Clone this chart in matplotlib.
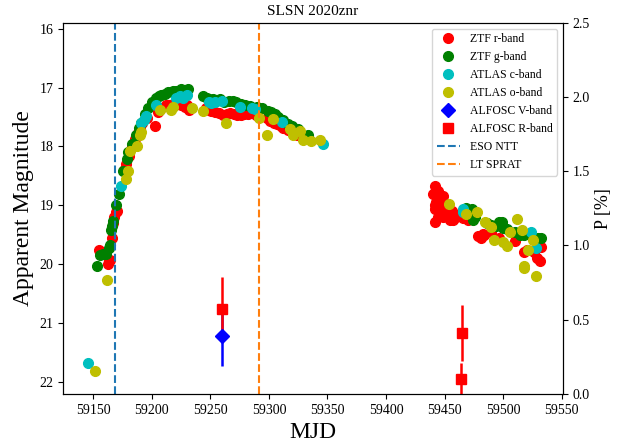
import matplotlib
matplotlib.use("Agg")
import matplotlib.pyplot as plt
from matplotlib.lines import Line2D

plt.rcParams['font.family'] = ['Liberation Serif', 'DejaVu Serif']
plt.rcParams['mathtext.fontset'] = 'stix'

# ZTF r-band
r_mjd = [59155, 59157, 59162.7, 59163.5, 59164, 59166.5, 59167, 59168, 59169.3, 59170,
         59176, 59178, 59181, 59183, 59186, 59188, 59190, 59192, 59196, 59202.6,
         59205, 59208, 59212.6, 59215, 59218, 59222, 59225, 59228.2, 59230, 59232,
         59246, 59249, 59251, 59254, 59257, 59261, 59264, 59267, 59270, 59273,
         59276.6, 59279, 59282, 59286, 59289.4, 59298, 59300.8, 59304, 59307, 59310,
         59312.2, 59316, 59320, 59324, 59328,
         59440.3, 59441.7, 59441.7, 59441.7, 59443, 59445, 59446, 59448.8, 59450, 59451.7,
         59453, 59454.5, 59456, 59458, 59460, 59463, 59466, 59470, 59478.7, 59481,
         59484, 59490, 59496, 59510, 59517.7, 59520, 59526, 59529, 59531, 59532,
         59442, 59444, 59447, 59449, 59452, 59455, 59457, 59444, 59447, 59480, 59483]
r_mag = [19.75, 19.80, 20.00, 19.95, 19.92, 19.55, 19.30, 19.20, 19.12, 19.10,
         18.40, 18.30, 18.16, 18.00, 17.88, 17.77, 17.70, 17.60, 17.52, 17.66,
         17.42, 17.35, 17.29, 17.30, 17.27, 17.28, 17.30, 17.33, 17.30, 17.38,
         17.35, 17.38, 17.40, 17.42, 17.43, 17.46, 17.44, 17.43, 17.45, 17.46,
         17.46, 17.45, 17.44, 17.42, 17.46, 17.52, 17.57, 17.60, 17.62, 17.65,
         17.68, 17.72, 17.76, 17.80, 17.84,
         18.81, 18.67, 19.07, 19.29, 18.95, 19.10, 18.90, 18.84, 19.15, 19.01,
         19.20, 19.24, 19.10, 19.15, 19.20, 19.18, 19.22, 19.25, 19.52, 19.55,
         19.50, 19.45, 19.55, 19.60, 19.80, 19.75, 19.80, 19.89, 19.95, 19.70,
         19.00, 19.20, 19.05, 19.20, 19.15, 19.20, 19.25, 18.75, 18.85, 19.52, 19.48]

# ZTF g-band
g_mjd = [59153.7, 59155.6, 59158, 59161.3, 59163.3, 59164, 59165.6, 59166.5, 59167, 59169.9,
         59171.9, 59175.5, 59179.3, 59180, 59183, 59186.4, 59189, 59191, 59194, 59197,
         59200, 59204, 59206, 59208.3, 59211, 59214, 59218.2, 59221, 59225.4, 59228, 59231,
         59244, 59246.8, 59249, 59252, 59255, 59258, 59262, 59266, 59269.5, 59272,
         59276, 59280, 59284, 59290, 59294, 59299.4, 59302, 59305, 59308, 59312,
         59316, 59320, 59325, 59333.5,
         59468, 59470, 59473, 59474.4, 59476, 59486, 59490, 59494, 59496, 59498.7,
         59500, 59503, 59510, 59514, 59518, 59524, 59530, 59532]
g_mag = [20.03, 19.85, 19.82, 19.83, 19.72, 19.68, 19.42, 19.35, 19.27, 19.00,
         18.81, 18.42, 18.21, 18.10, 17.95, 17.81, 17.68, 17.60, 17.45, 17.34,
         17.25, 17.17, 17.15, 17.12, 17.10, 17.08, 17.06, 17.05, 17.03, 17.04, 17.03,
         17.15, 17.17, 17.20, 17.20, 17.22, 17.20, 17.24, 17.22, 17.23, 17.25,
         17.28, 17.30, 17.32, 17.33, 17.35, 17.40, 17.42, 17.45, 17.50, 17.55,
         17.62, 17.66, 17.70, 17.80,
         19.05, 19.10, 19.07, 19.24, 19.20, 19.30, 19.33, 19.35, 19.28, 19.29,
         19.38, 19.40, 19.45, 19.50, 19.50, 19.50, 19.55, 19.55]

# ATLAS c-band
c_mjd = [59145.6, 59174.2, 59191.2, 59193, 59195, 59204, 59220.5, 59224, 59229.7, 59227,
         59249, 59251, 59254, 59259.6, 59275.2, 59286, 59288, 59311.6, 59345.8,
         59465.9, 59466, 59523.4, 59527.6]
c_mag = [21.67, 18.67, 17.60, 17.55, 17.49, 17.29, 17.17, 17.15, 17.12, 17.18,
         17.25, 17.26, 17.25, 17.23, 17.33, 17.34, 17.36, 17.59, 17.95,
         19.07, 19.12, 19.46, 19.72]

# ATLAS o-band
o_mjd = [59152, 59161.9, 59177.8, 59179.8, 59181.8, 59187.8, 59189.8, 59191, 59206.9, 59216.3,
         59218, 59234, 59243.9, 59263.8, 59291.7, 59298, 59303.6, 59317.9, 59320.7, 59326.4,
         59329.3, 59335.6, 59343.5,
         59454, 59468.2, 59477.9, 59484.4, 59490, 59492.1, 59499.5, 59503.5, 59505.8, 59512.1,
         59515.7, 59521.4, 59525.7, 59518.1, 59517.7, 59528]
o_mag = [21.82, 20.27, 18.56, 18.42, 18.08, 17.99, 17.80, 17.75, 17.38, 17.38,
         17.33, 17.34, 17.40, 17.60, 17.51, 17.80, 17.54, 17.71, 17.80, 17.74,
         17.89, 17.91, 17.89,
         18.98, 19.15, 19.11, 19.28, 19.36, 19.59, 19.63, 19.69, 19.46, 19.23,
         19.41, 19.76, 19.58, 20.03, 20.07, 20.20]

# Polarimetry (P [%])
V_mjd = [59259.6]
V_pol = [0.39]
V_err = [0.20]
R_mjd = [59259.8, 59464.6, 59463.8]
R_pol = [0.57, 0.41, 0.10]
R_err = [0.22, 0.19, 0.11]

# Spectra epochs
ntt_mjd = 59168.5
sprat_mjd = 59291.5

fig = plt.figure(figsize=(6.39, 4.48), dpi=100)
ax = fig.add_axes([0.099, 0.121, 0.782, 0.828])
ms = 7
h1, = ax.plot(r_mjd, r_mag, 'o', color='r', ms=ms, label='ZTF r-band')
h2, = ax.plot(g_mjd, g_mag, 'o', color='g', ms=ms, label='ZTF g-band')
h3, = ax.plot(c_mjd, c_mag, 'o', color='c', ms=ms, label='ATLAS c-band')
h4, = ax.plot(o_mjd, o_mag, 'o', color='y', ms=ms, label='ATLAS o-band')
h7 = ax.axvline(ntt_mjd, color='C0', ls='--', lw=1.5, label='ESO NTT')
h8 = ax.axvline(sprat_mjd, color='C1', ls='--', lw=1.5, label='LT SPRAT')

ax.set_xlim(59124.5, 59551)
ax.set_ylim(22.2, 15.9)
ax.set_xticks([59150, 59200, 59250, 59300, 59350, 59400, 59450, 59500, 59550])
ax.set_yticks([16, 17, 18, 19, 20, 21, 22])
ax.tick_params(labelsize=10)
ax.set_xlabel('MJD', fontsize=17)
ax.set_ylabel('Apparent Magnitude', fontsize=17)
ax.set_title('SLSN 2020znr', fontsize=11)

ax2 = ax.twinx()
ax2.errorbar(V_mjd, V_pol, yerr=V_err, fmt='D', color='b', ms=7, lw=1.8)
ax2.errorbar(R_mjd, R_pol, yerr=R_err, fmt='s', color='r', ms=7, lw=1.8)
ax2.set_ylim(0, 2.5)
ax2.set_yticks([0.0, 0.5, 1.0, 1.5, 2.0, 2.5])
ax2.tick_params(labelsize=10)
ax2.set_ylabel('P [%]', fontsize=13)

hV = Line2D([], [], marker='D', color='b', ls='none', ms=7)
hR = Line2D([], [], marker='s', color='r', ls='none', ms=7)
handles = [h1, h2, h3, h4, hV, hR, h7, h8]
labels = ['ZTF r-band', 'ZTF g-band', 'ATLAS c-band', 'ATLAS o-band',
          'ALFOSC V-band', 'ALFOSC R-band', 'ESO NTT', 'LT SPRAT']
ax2.legend(handles, labels, loc='upper right', fontsize=8.5, framealpha=0.8)

fig.savefig('out.png', dpi=100)
